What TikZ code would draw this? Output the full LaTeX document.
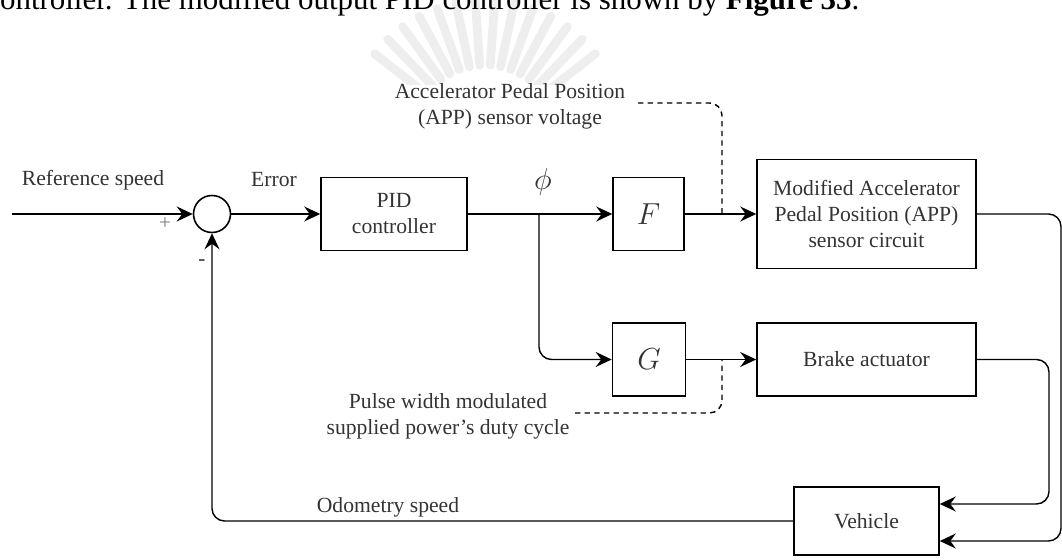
\documentclass[tikz,border=0pt]{standalone}
\usepackage{fontspec}
\setmainfont{Liberation Serif}
\usetikzlibrary{arrows.meta}
\definecolor{txtgray}{HTML}{333333}
\definecolor{markgray}{HTML}{EEEEEE}

\begin{document}
\begin{tikzpicture}[
    block/.style={draw, line width=0.9pt, align=center, inner sep=0pt, text=txtgray, font=\fontsize{12.3}{14.8}\selectfont},
    lbl/.style={align=center, text=txtgray, font=\fontsize{12.3}{14.8}\selectfont},
    sig/.style={line width=0.8pt, rounded corners=0.25cm, -{Stealth[length=3.2mm, width=3mm, inset=1.1mm]}},
    hint/.style={line width=0.8pt, dash pattern=on 3pt off 2.5pt, rounded corners=0.25cm},
]
    \useasboundingbox (0,0) rectangle (21.24,11.2);

    % Faint emblem behind
    \begin{scope}
        \clip (0,9.5) rectangle (21.24,11.2);
        \foreach \a in {38,46,...,142}
            \draw[markgray, line width=5pt, line cap=round] (9.7,8.4) ++(\a:1.5) -- ++(\a:1.3);
    \end{scope}

    % Running text above the figure
    \node[anchor=base west, inner sep=0pt, font=\fontsize{17.6}{20}\selectfont] (para) at (-0.28, 11.0)
        {controller. The modified output PID controller is shown by \textbf{Figure 33}.};

    % Summing junction and controller
    \node[circle, draw, line width=0.9pt, minimum size=0.74cm, inner sep=0pt] (sum) at (4.24, 6.92) {};
    \node[block, minimum width=2.92cm, minimum height=1.46cm] (pid) at (7.88, 6.92) {PID\\controller};

    % F and G
    \node[block, minimum width=1.42cm, minimum height=1.46cm, font=\fontsize{17}{18}\selectfont] (fblk) at (12.97, 6.92) {$F$};
    \node[block, minimum width=1.46cm, minimum height=1.46cm, font=\fontsize{17}{18}\selectfont] (gblk) at (12.98, 4.01) {$G$};

    % Plant side
    \node[block, minimum width=4.38cm, minimum height=2.18cm] (appc) at (17.33, 6.92)
        {Modified Accelerator\\Pedal Position (APP)\\sensor circuit};
    \node[block, minimum width=4.38cm, minimum height=1.46cm] (brake) at (17.33, 4.01) {Brake actuator};
    \node[block, minimum width=2.90cm, minimum height=1.36cm] (veh) at (17.33, 0.78) {Vehicle};

    % Labels
    \node[lbl] (reflbl) at (1.86, 7.60) {Reference speed};
    \node[font=\fontsize{12}{12}\selectfont, text=gray] (plus) at (3.30, 6.72) {+};
    \node[font=\fontsize{12}{12}\selectfont, text=txtgray] (minus) at (4.04, 5.94) {-};
    \node[lbl] (errlbl) at (5.48, 7.60) {Error};
    \node[text=txtgray, font=\fontsize{16}{17}\selectfont] (philbl) at (10.86, 7.56) {$\phi$};
    \node[lbl] (applbl) at (10.20, 9.08) {Accelerator Pedal Position\\(APP) sensor voltage};
    \node[lbl] (pwmlbl) at (8.96, 2.88) {Pulse width modulated\\supplied power's duty cycle};
    \node[lbl] (odolbl) at (7.76, 1.06) {Odometry speed};

    % Points on the wires
    \coordinate (ref) at (0.24, 6.92);
    \coordinate (split) at (10.78, 6.92);
    \coordinate (fjoin) at (14.44, 6.92);
    \coordinate (gjoin) at (14.44, 4.01);
    \coordinate (appsrc) at (12.76, 9.14);
    \coordinate (pwmsrc) at (11.50, 2.94);
    \coordinate (aturn) at (21.22, 6.92);
    \coordinate (bturn) at (20.98, 4.01);

    % Forward path
    \draw[sig] (ref) -- (sum);
    \draw[sig] (sum) -- (pid);
    \draw[sig] (pid) -- (fblk);
    \draw[sig] (split) |- (gblk);
    \draw[sig] (fblk) -- (appc);
    \draw[sig] (gblk) -- (brake);

    % Dashed notes
    \draw[hint] (appsrc) -| (fjoin);
    \draw[hint] (pwmsrc) -| (gjoin);

    % Into the vehicle
    \draw[sig] (appc) -- (aturn) |- ([yshift=-0.40cm]veh.east);
    \draw[sig] (brake) -- (bturn) |- ([yshift=0.34cm]veh.east);

    % Feedback
    \draw[sig] (veh) -| (sum);
\end{tikzpicture}
\end{document}
